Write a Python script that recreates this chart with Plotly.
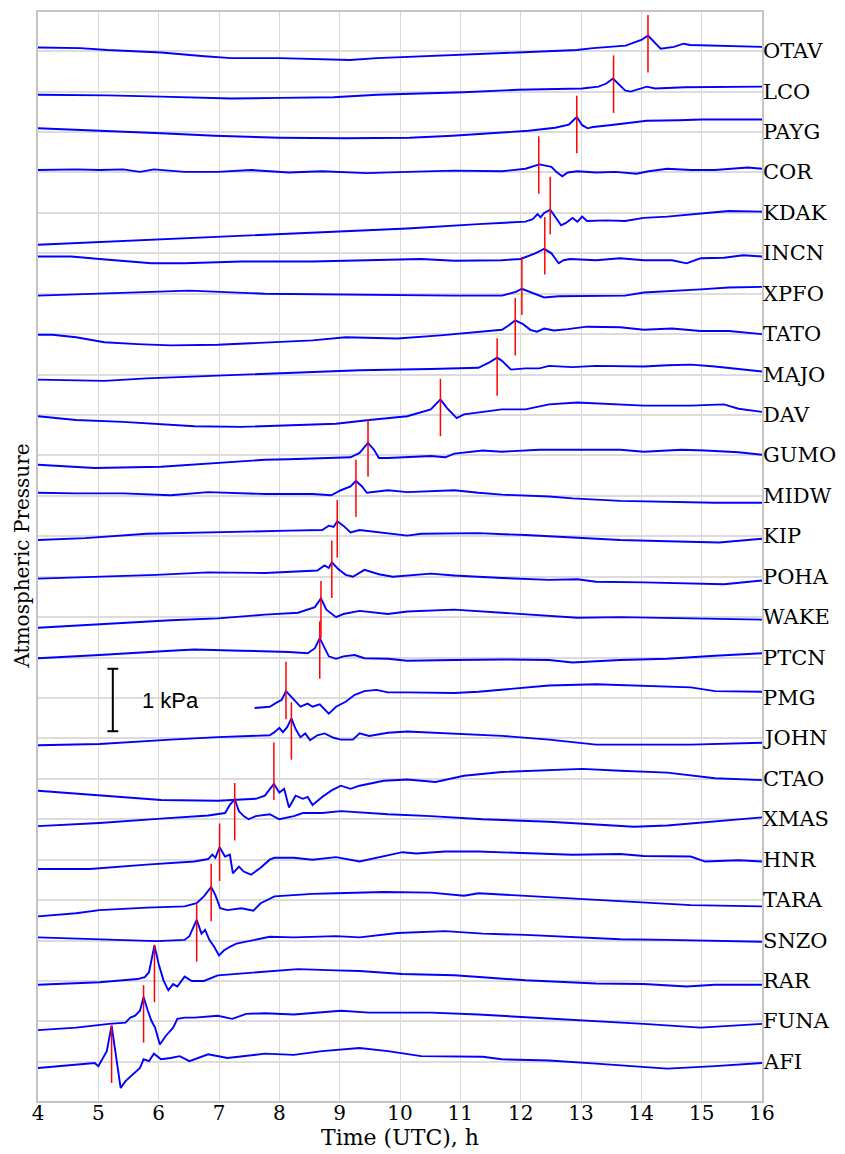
import plotly.graph_objects as go

# Stations listed top to bottom
STATIONS = ["OTAV", "LCO", "PAYG", "COR", "KDAK", "INCN", "XPFO", "TATO", "MAJO", "DAV",
            "GUMO", "MIDW", "KIP", "POHA", "WAKE", "PTCN", "PMG", "JOHN", "CTAO", "XMAS",
            "HNR", "TARA", "SNZO", "RAR", "FUNA", "AFI"]

# Arrival times (UTC, h) marked with red ticks
ARRIVAL = [14.11, 13.54, 12.93, 12.30, 12.49, 12.40, 12.02, 11.91, 11.61, 10.67,
           9.47, 9.27, 8.96, 8.87, 8.69, 8.67, 8.11, 8.20, 7.91, 7.26,
           7.01, 6.87, 6.63, 5.93, 5.75, 5.22]

# Pressure deviation from each station's baseline (kPa)
OTAV_t = [4.0,4.70,5.15,6.04,6.76,7.20,8.01,9.17,9.62,11.05,11.95,12.93,13.20,13.74,14.00,14.11,14.23,14.32,14.54,14.70,14.81,16.0]
OTAV_p = [0.06,0.05,0.02,-0.02,-0.08,-0.11,-0.11,-0.14,-0.11,-0.06,-0.02,0.02,0.05,0.09,0.18,0.25,0.12,0.04,0.07,0.12,0.10,0.07]
LCO_t = [4.0,5.15,6.04,7.20,8.01,8.90,9.62,11.05,11.95,13.02,13.29,13.42,13.53,13.64,13.73,13.82,13.96,14.09,14.23,14.72,16.0]
LCO_p = [-0.05,-0.06,-0.08,-0.11,-0.10,-0.09,-0.05,-0.01,0.03,0.05,0.08,0.13,0.21,0.11,0.02,0.0,0.04,0.08,0.05,0.07,0.08]
PAYG_t = [4.0,5.15,6.04,6.93,8.01,9.08,10.16,10.87,11.41,12.13,12.57,12.80,12.93,13.02,13.11,13.20,13.47,14.09,14.63,14.99,16.0]
PAYG_p = [0.06,0.02,-0.02,-0.06,-0.09,-0.10,-0.09,-0.06,-0.03,0.02,0.07,0.12,0.24,0.11,0.06,0.08,0.11,0.18,0.19,0.20,0.20]
COR_t = [4.0,4.63,5.02,5.41,5.69,5.92,6.43,6.98,7.53,8.16,8.71,9.45,10.12,10.90,11.69,12.08,12.31,12.43,12.51,12.59,12.69,12.78,12.94,13.25,13.57,13.92,14.12,14.43,14.82,15.22,15.76,16.0]
COR_p = [0.04,0.05,0.04,0.05,0.01,0.05,0.01,0.01,0.04,0.0,0.02,-0.01,0.01,0.03,0.02,0.06,0.13,0.11,0.09,0.01,-0.06,0.0,0.02,0.0,0.01,-0.02,0.02,0.06,0.04,0.04,0.08,0.06]
KDAK_t = [4.0,5.41,6.98,8.55,10.12,11.30,12.08,12.20,12.28,12.33,12.39,12.49,12.57,12.67,12.75,12.86,12.94,13.02,13.10,13.41,13.73,14.04,14.43,14.82,15.22,15.45,16.0]
KDAK_p = [-0.51,-0.45,-0.38,-0.31,-0.25,-0.18,-0.14,-0.10,-0.02,-0.07,0.0,0.05,-0.06,-0.20,-0.16,-0.08,-0.14,-0.06,-0.13,-0.12,-0.13,-0.08,-0.06,-0.02,0.01,0.03,0.02]
INCN_t = [4.0,4.55,5.02,5.88,6.43,7.37,8.55,9.33,10.35,10.90,11.69,12.00,12.24,12.39,12.51,12.63,12.71,12.82,13.25,13.65,14.04,14.51,14.75,14.98,15.37,15.69,16.0]
INCN_p = [-0.05,-0.05,-0.09,-0.16,-0.16,-0.13,-0.13,-0.11,-0.09,-0.12,-0.11,-0.09,0.0,0.07,0.0,-0.16,-0.11,-0.09,-0.11,-0.08,-0.11,-0.11,-0.16,-0.08,-0.07,-0.03,-0.05]
XPFO_t = [4.0,5.02,6.51,7.76,9.33,10.90,11.69,11.92,12.02,12.16,12.39,12.63,13.25,13.73,14.04,14.51,14.98,15.45,16.0]
XPFO_p = [-0.03,0.0,0.05,0.0,-0.02,-0.03,-0.03,0.03,0.08,0.03,-0.06,-0.04,-0.04,-0.03,0.02,0.04,0.07,0.10,0.11]
TATO_t = [4.0,4.24,4.63,5.10,5.65,6.20,6.98,7.76,8.55,9.10,9.96,10.67,11.30,11.69,11.80,11.91,12.04,12.16,12.27,12.39,12.55,12.78,13.10,13.65,14.04,14.51,14.98,15.45,16.0]
TATO_p = [-0.01,-0.01,-0.05,-0.13,-0.16,-0.18,-0.17,-0.14,-0.10,-0.05,-0.07,-0.02,0.04,0.07,0.14,0.22,0.16,0.07,0.04,0.09,0.06,0.08,0.12,0.11,0.07,0.09,0.05,0.05,0.0]
MAJO_t = [4.0,5.10,5.80,6.98,8.16,9.33,10.51,11.30,11.49,11.61,11.69,11.84,12.08,12.31,12.47,12.86,13.25,14.04,14.43,14.82,15.22,16.0]
MAJO_p = [-0.08,-0.10,-0.06,-0.02,0.03,0.07,0.09,0.11,0.20,0.27,0.22,0.08,0.10,0.10,0.14,0.12,0.14,0.13,0.15,0.16,0.13,0.05]
DAV_t = [4.0,4.63,5.41,6.59,7.37,8.16,8.94,9.49,10.12,10.51,10.67,10.78,10.94,11.06,11.30,11.69,12.08,12.47,12.94,13.65,14.04,14.82,15.37,15.61,16.0]
DAV_p = [-0.02,-0.08,-0.11,-0.18,-0.19,-0.17,-0.14,-0.08,-0.02,0.09,0.25,0.11,-0.05,0.01,0.04,0.09,0.09,0.17,0.20,0.17,0.15,0.15,0.17,0.10,0.05]
GUMO_t = [4.0,4.94,6.04,6.98,7.76,8.16,9.18,9.33,9.47,9.57,9.65,9.80,10.12,10.51,10.75,10.90,11.37,11.69,12.31,13.25,13.65,14.04,14.67,15.06,15.61,16.0]
GUMO_p = [-0.15,-0.20,-0.18,-0.12,-0.07,-0.06,-0.03,0.04,0.20,0.09,-0.04,-0.04,-0.03,-0.01,-0.03,0.03,0.08,0.06,0.09,0.09,0.09,0.06,0.09,0.08,0.05,0.01]
MIDW_t = [4.0,4.63,5.41,6.20,6.82,7.76,8.55,8.86,9.02,9.18,9.27,9.37,9.45,9.57,9.80,10.12,10.51,10.90,11.30,11.69,12.47,12.86,13.65,14.43,15.22,16.0]
MIDW_p = [0.05,0.04,0.04,0.01,0.06,0.03,0.03,0.01,0.09,0.15,0.24,0.15,0.05,0.06,0.09,0.06,0.08,0.09,0.05,0.02,-0.01,-0.04,-0.08,-0.10,-0.11,-0.11]
KIP_t = [4.0,4.78,5.80,6.59,7.37,8.16,8.71,8.82,8.90,8.96,9.06,9.18,9.33,9.49,9.80,10.12,10.35,10.67,11.30,12.08,12.86,13.65,14.43,15.29,16.0]
KIP_p = [-0.06,-0.03,0.04,0.06,0.08,0.09,0.10,0.17,0.15,0.24,0.17,0.06,0.10,0.08,0.04,0.01,0.04,0.04,0.05,0.02,-0.02,-0.06,-0.08,-0.10,-0.04]
POHA_t = [4.0,5.02,5.96,6.82,7.76,8.63,8.75,8.82,8.87,8.98,9.10,9.22,9.41,9.65,9.88,10.51,10.90,11.69,12.47,12.94,13.25,14.04,14.82,15.37,16.0]
POHA_p = [-0.03,0.0,0.03,0.07,0.06,0.10,0.18,0.14,0.23,0.12,0.03,0.0,0.11,0.04,0.0,0.05,0.02,-0.02,-0.05,-0.04,-0.08,-0.09,-0.11,-0.12,-0.06]
WAKE_t = [4.0,5.02,6.20,6.98,7.76,8.31,8.47,8.59,8.69,8.78,8.94,9.06,9.33,9.80,10.12,10.90,11.69,12.47,12.94,13.65,14.43,15.22,16.0]
WAKE_p = [-0.17,-0.11,-0.05,-0.02,0.04,0.07,0.12,0.16,0.30,0.12,0.0,0.05,0.10,0.05,0.09,0.12,0.07,0.02,-0.01,0.0,-0.01,-0.02,-0.04]
PTCN_t = [4.0,5.02,6.20,6.59,7.37,8.16,8.47,8.59,8.67,8.75,8.82,8.94,9.06,9.25,9.41,9.80,10.12,10.90,11.69,12.47,12.86,13.65,14.43,15.22,16.0]
PTCN_p = [-0.01,0.04,0.11,0.13,0.11,0.09,0.07,0.15,0.31,0.15,0.02,-0.02,0.02,0.04,-0.01,-0.02,-0.05,-0.04,-0.03,-0.04,-0.08,-0.04,-0.02,0.03,0.07]
PMG_t = [7.59,7.84,7.96,8.04,8.11,8.20,8.27,8.35,8.47,8.55,8.67,8.82,8.94,9.10,9.25,9.41,9.61,9.80,10.12,10.51,10.90,11.30,11.69,12.47,13.25,14.04,14.82,15.22,16.0]
PMG_p = [-0.16,-0.14,-0.07,-0.03,0.11,0.02,-0.06,-0.14,-0.09,-0.14,-0.10,-0.25,-0.14,-0.06,0.05,0.11,0.13,0.09,0.09,0.08,0.08,0.10,0.13,0.20,0.22,0.19,0.17,0.11,0.10]
JOHN_t = [4.0,5.02,6.20,6.98,7.84,7.92,8.00,8.06,8.13,8.20,8.27,8.35,8.43,8.51,8.63,8.75,8.90,9.02,9.22,9.33,9.49,9.80,10.12,10.51,10.90,11.69,12.47,13.25,14.04,14.82,16.0]
JOHN_p = [-0.11,-0.09,-0.02,0.02,0.05,0.10,0.17,0.10,0.18,0.32,0.15,0.02,0.08,-0.03,0.05,0.08,0.01,-0.02,-0.02,0.08,0.04,0.09,0.11,0.09,0.08,0.04,-0.02,-0.10,-0.10,-0.10,-0.07]
CTAO_t = [4.0,5.02,6.04,6.98,7.61,7.76,7.91,8.00,8.08,8.16,8.27,8.39,8.47,8.55,8.71,8.86,9.02,9.18,9.33,9.73,10.12,10.59,11.06,11.69,12.31,13.02,13.65,14.43,15.22,16.0]
CTAO_p = [-0.19,-0.26,-0.34,-0.35,-0.32,-0.27,-0.08,-0.22,-0.16,-0.46,-0.27,-0.32,-0.29,-0.42,-0.29,-0.19,-0.11,-0.16,-0.11,-0.03,-0.01,-0.05,0.05,0.11,0.13,0.16,0.13,0.10,0.01,-0.02]
XMAS_t = [4.0,5.02,6.04,6.82,7.10,7.18,7.26,7.33,7.41,7.49,7.61,7.84,8.00,8.24,8.39,8.71,9.02,9.80,10.51,11.37,12.47,13.25,13.88,14.43,15.22,16.0]
XMAS_p = [-0.11,-0.06,0.01,0.06,0.10,0.23,0.32,0.13,0.05,0.0,0.05,0.08,0.0,0.05,0.10,0.10,0.13,0.08,0.05,0.0,-0.04,-0.08,-0.12,-0.10,-0.03,0.03]
HNR_t = [4.0,4.86,5.80,6.59,6.82,6.89,6.94,7.01,7.10,7.18,7.23,7.33,7.41,7.53,7.69,7.84,7.92,8.24,8.55,8.94,9.33,9.73,10.04,10.27,10.75,11.30,12.08,12.86,13.65,14.04,14.82,15.06,15.61,16.0]
HNR_p = [-0.15,-0.15,-0.08,-0.03,0.01,0.08,0.03,0.20,0.05,0.08,-0.22,-0.11,-0.19,-0.24,-0.13,0.0,0.03,0.03,0.0,0.04,-0.03,0.05,0.12,0.10,0.13,0.13,0.11,0.08,0.09,0.06,0.05,-0.03,-0.01,-0.03]
TARA_t = [4.0,4.63,5.02,5.80,6.43,6.63,6.75,6.87,6.94,7.02,7.14,7.37,7.57,7.69,7.92,8.55,8.94,9.73,10.51,11.06,11.30,12.00,12.47,13.25,14.04,14.82,16.0]
TARA_p = [-0.26,-0.21,-0.16,-0.12,-0.10,-0.05,0.06,0.21,0.08,-0.13,-0.16,-0.13,-0.17,-0.05,0.06,0.10,0.11,0.13,0.12,0.07,0.11,0.07,0.05,0.0,-0.04,-0.08,-0.10]
SNZO_t = [4.0,5.02,5.96,6.43,6.51,6.63,6.71,6.77,6.84,6.92,7.00,7.08,7.18,7.29,7.45,7.69,7.84,8.24,8.94,9.33,9.96,10.75,11.37,12.08,12.86,13.65,14.43,15.22,16.0]
SNZO_p = [0.05,0.02,-0.01,0.01,0.07,0.33,0.11,0.17,0.01,-0.10,-0.24,-0.16,-0.10,-0.05,-0.02,0.02,0.06,0.05,0.07,0.05,0.12,0.15,0.11,0.09,0.05,0.02,0.01,0.0,-0.02]
RAR_t = [4.0,5.02,5.65,5.77,5.84,5.93,6.00,6.08,6.16,6.24,6.31,6.43,6.55,6.75,6.98,7.37,7.76,8.31,8.94,9.33,10.04,10.90,11.37,12.08,13.25,14.04,14.75,15.22,16.0]
RAR_p = [-0.06,-0.02,0.03,0.06,0.14,0.57,0.27,0.01,-0.15,-0.05,-0.09,0.07,0.0,0.0,0.09,0.12,0.14,0.19,0.17,0.16,0.11,0.09,0.06,0.01,-0.04,-0.05,-0.09,-0.06,-0.06]
FUNA_t = [4.0,4.63,5.18,5.45,5.53,5.61,5.69,5.75,5.82,5.88,5.94,6.02,6.12,6.24,6.31,6.43,6.59,6.75,6.98,7.22,7.45,7.76,8.24,9.02,9.49,9.96,10.51,11.30,12.08,12.86,14.04,14.98,16.0]
FUNA_p = [-0.14,-0.10,-0.04,-0.02,0.06,0.09,0.17,0.39,0.17,0.01,-0.10,-0.37,-0.23,-0.10,0.04,0.06,0.06,0.07,0.09,0.04,0.12,0.13,0.11,0.17,0.14,0.14,0.14,0.11,0.07,0.02,-0.04,-0.10,-0.04]
AFI_t = [4.0,4.63,4.94,5.00,5.10,5.14,5.22,5.29,5.37,5.45,5.57,5.69,5.75,5.84,5.92,6.04,6.20,6.35,6.51,6.82,7.14,7.76,8.24,8.71,9.33,9.80,10.35,10.90,11.37,11.69,12.47,13.25,14.04,14.43,15.22,16.0]
AFI_p = [-0.10,-0.05,-0.02,-0.07,0.12,0.17,0.58,0.12,-0.42,-0.31,-0.20,-0.10,0.04,0.01,0.13,0.04,0.06,0.09,0.01,0.12,0.06,0.13,0.11,0.17,0.22,0.17,0.09,0.08,0.08,0.04,0.02,-0.03,-0.09,-0.11,-0.07,-0.02]

SERIES = {
    "OTAV": (OTAV_t, OTAV_p), "LCO": (LCO_t, LCO_p), "PAYG": (PAYG_t, PAYG_p),
    "COR": (COR_t, COR_p), "KDAK": (KDAK_t, KDAK_p), "INCN": (INCN_t, INCN_p),
    "XPFO": (XPFO_t, XPFO_p), "TATO": (TATO_t, TATO_p), "MAJO": (MAJO_t, MAJO_p),
    "DAV": (DAV_t, DAV_p), "GUMO": (GUMO_t, GUMO_p), "MIDW": (MIDW_t, MIDW_p),
    "KIP": (KIP_t, KIP_p), "POHA": (POHA_t, POHA_p), "WAKE": (WAKE_t, WAKE_p),
    "PTCN": (PTCN_t, PTCN_p), "PMG": (PMG_t, PMG_p), "JOHN": (JOHN_t, JOHN_p),
    "CTAO": (CTAO_t, CTAO_p), "XMAS": (XMAS_t, XMAS_p), "HNR": (HNR_t, HNR_p),
    "TARA": (TARA_t, TARA_p), "SNZO": (SNZO_t, SNZO_p), "RAR": (RAR_t, RAR_p),
    "FUNA": (FUNA_t, FUNA_p), "AFI": (AFI_t, AFI_p),
}

X_TICKS = list(range(4, 17))
SCALE_KPA = 1.0          # scale bar length, kPa
MARK_LOW, MARK_HIGH = -0.34, 0.58   # red marker extent relative to baseline, kPa

K = 1.545   # trace-spacing units per kPa
N = len(STATIONS)
SERIF = "DejaVu Serif"

fig = go.Figure()

red_x, red_y = [], []
for i, name in enumerate(STATIONS):
    base = N - 1 - i
    t, p = SERIES[name]
    fig.add_trace(go.Scatter(x=t, y=[base + v * K for v in p], mode="lines",
                             line=dict(color="#0000ff", width=1.9),
                             hoverinfo="skip", showlegend=False))
    a = ARRIVAL[i]
    red_x += [a, a, None]
    red_y += [base + MARK_LOW * K, base + MARK_HIGH * K, None]
    # station label just right of the plot frame
    fig.add_annotation(xref="paper", x=1, y=base, xanchor="left", yanchor="middle", xshift=-1,
                       text=name, showarrow=False,
                       font=dict(family=SERIF, size=21, color="black"))

fig.add_trace(go.Scatter(x=red_x, y=red_y, mode="lines",
                         line=dict(color="#ff0000", width=1.5),
                         hoverinfo="skip", showlegend=False))

# scale bar
bar_x = 5.24
bar_c = (N - 1 - STATIONS.index("PMG")) - 0.05
half = SCALE_KPA * K / 2
bar_line = dict(color="black", width=2)
fig.add_shape(type="line", x0=bar_x, x1=bar_x, y0=bar_c - half, y1=bar_c + half, line=bar_line)
fig.add_shape(type="line", x0=bar_x - 0.09, x1=bar_x + 0.09, y0=bar_c - half, y1=bar_c - half, line=bar_line)
fig.add_shape(type="line", x0=bar_x - 0.09, x1=bar_x + 0.09, y0=bar_c + half, y1=bar_c + half, line=bar_line)
fig.add_annotation(x=bar_x + 0.45, y=bar_c, text="1 kPa", showarrow=False, xanchor="left",
                   font=dict(family="Liberation Sans", size=22, color="black"))

fig.add_annotation(xref="paper", yref="paper", x=0, y=0.5, xshift=-17, text="Atmospheric Pressure",
                   textangle=-90, showarrow=False, xanchor="center", yanchor="middle",
                   font=dict(family=SERIF, size=20, color="black"))

# page body has an 8 px margin: figure is sized so the plot lands where the reference has it
fig.update_layout(
    width=837, height=1146,
    margin=dict(l=30, r=83, t=4, b=53, autoexpand=False),
    paper_bgcolor="white", plot_bgcolor="white",
    showlegend=False,
    xaxis=dict(range=[4, 16], tickvals=X_TICKS, ticktext=[str(v) for v in X_TICKS],
               automargin=False,
               showgrid=True, gridcolor="#d9d9d9", gridwidth=1, zeroline=False,
               showline=True, mirror=True, linecolor="#c4c4c4", linewidth=1.5, ticks="",
               ticklabelstandoff=-7,
               tickfont=dict(family=SERIF, size=20, color="black"),
               title=dict(text="Time (UTC), h", font=dict(family=SERIF, size=22, color="black"), standoff=6)),
    yaxis=dict(range=[-0.97, N - 1 + 0.97], side="right", automargin=False,
               tickvals=list(range(N)), showticklabels=False,
               showgrid=True, gridcolor="#dcdcdc", gridwidth=1.5, zeroline=False,
               showline=True, mirror=True, linecolor="#c4c4c4", linewidth=1.5, ticks=""),
)

fig.write_html("out.html")
